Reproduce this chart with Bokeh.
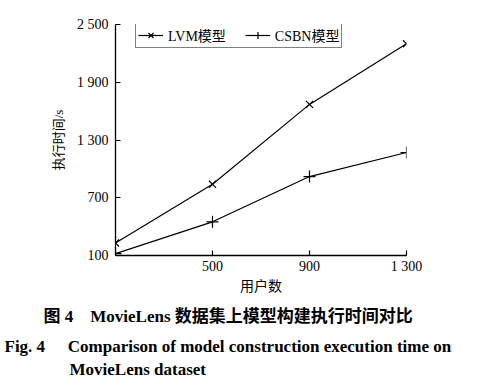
from bokeh.plotting import figure
from bokeh.models import Range1d, FixedTicker, Legend, LegendItem, Title
from bokeh.embed import file_html
from bokeh.resources import INLINE

users = [100, 500, 900, 1300]
lvm_time = [230, 840, 1670, 2300]
csbn_time = [120, 450, 920, 1170]
x_ticks = [500, 900, 1300]
x_tick_labels = {500: "500", 900: "900", 1300: "1 300"}
y_ticks = [100, 700, 1300, 1900, 2500]
y_tick_labels = {100: "100", 700: "700", 1300: "1 300", 1900: "1 900", 2500: "2 500"}
series_names = ["LVM模型", "CSBN模型"]
x_title = "用户数"
y_title = "执行时间/s"
caption_cn = "图 4\u3000MovieLens 数据集上模型构建执行时间对比"
caption_en_1 = "Fig. 4\u2003\u2004Comparison of model construction execution time on"
caption_en_2 = "MovieLens dataset"

SERIF = "Liberation Serif, Noto Sans CJK SC"

W, H = 485, 381
FL, FR, FT, FB = 115, 406, 24, 256

p = figure(width=W, height=H, output_backend="svg", toolbar_location=None,
           x_range=Range1d(100, 1300), y_range=Range1d(100, 2500),
           min_border_left=FL, min_border_right=W - FR,
           min_border_top=FT, min_border_bottom=H - FB,
           background_fill_color="white", border_fill_color="white",
           outline_line_color=None)
p.xgrid.visible = False
p.ygrid.visible = False

for ax in (p.xaxis[0], p.yaxis[0]):
    ax.axis_line_color = "black"
    ax.axis_line_width = 1.3
    ax.major_tick_line_color = "black"
    ax.major_tick_line_width = 1.2
    ax.major_tick_in = 5
    ax.major_tick_out = 0
    ax.minor_tick_line_color = None
    ax.major_label_text_font = SERIF
    ax.major_label_text_font_size = "14px"
    ax.major_label_text_color = "black"
    ax.axis_label_text_font = SERIF
    ax.axis_label_text_font_style = "normal"
    ax.axis_label_text_color = "black"

p.xaxis.ticker = FixedTicker(ticks=x_ticks)
p.xaxis.major_label_overrides = x_tick_labels
p.xaxis.major_label_standoff = 3
p.xaxis.axis_label = x_title
p.xaxis.axis_label_text_font_size = "14px"
p.xaxis.axis_label_standoff = 2

p.yaxis.ticker = FixedTicker(ticks=y_ticks)
p.yaxis.major_label_overrides = y_tick_labels
p.yaxis.major_label_standoff = 7
p.yaxis.axis_label = y_title
p.yaxis.axis_label_text_font_size = "13px"
p.yaxis.axis_label_standoff = 8

l1 = p.line(users, lvm_time, line_color="black", line_width=1.2)
m1 = p.scatter(users, lvm_time, marker="x", size=10, line_color="black", line_width=1.2)
l2 = p.line(users, csbn_time, line_color="black", line_width=1.2)
m2 = p.scatter(users, csbn_time, marker="cross", size=12, line_color="black", line_width=1.2)

legend = Legend(items=[LegendItem(label=series_names[0], renderers=[l1, m1]),
                       LegendItem(label=series_names[1], renderers=[l2, m2])],
                orientation="horizontal", location=(20, 207),
                padding=2, spacing=19, margin=0,
                glyph_width=25, glyph_height=18, label_standoff=5,
                label_height=14, label_text_font=SERIF, label_text_font_size="14px",
                label_text_color="black", label_text_baseline="middle",
                border_line_color="black", border_line_width=1.2,
                background_fill_color="white", background_fill_alpha=1)
p.add_layout(legend, "center")


def caption(text, left_x, standoff):
    p.add_layout(Title(text=text, align="left", offset=left_x - FL,
                       standoff=standoff, vertical_align="middle",
                       text_font=SERIF, text_font_size="17px",
                       text_font_style="bold", text_color="black"), "below")


caption(caption_cn, 43, 18)
caption(caption_en_1, 4, 0)
caption(caption_en_2, 69, 4)

open("out.html", "w").write(file_html(p, INLINE))
